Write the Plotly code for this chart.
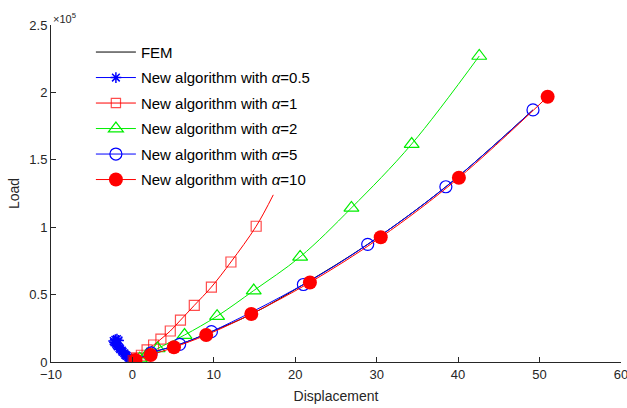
import plotly.graph_objects as go

# ---- data (load in N) ----
fem_x = [0, 2.3, 5.8, 9.7, 14.8, 21.0, 28.9, 38.5, 49.2]
fem_y = [0, 6700, 13100, 22500, 36000, 57500, 87300, 130000, 187000]

a05_x = [0, -0.1, -0.2, -0.4, -0.5, -0.7, -0.8, -0.9, -1.0, -1.2, -1.3, -1.5, -1.6, -1.8, -1.9, -2.0, -2.2, -2.3, -2.1, -1.9, -1.7]
a05_y = [500, 1000, 1500, 2500, 3500, 4500, 5000, 5500, 6500, 7500, 8500, 9500, 10500, 11500, 12500, 13500, 14500, 15500, 16500, 17000, 16000]

a1_x = [0.1, 0.5, 1.1, 1.8, 2.6, 3.5, 4.65, 5.9, 7.6, 9.7, 12.1, 15.2, 17.3]
a1_y = [1000, 3000, 5000, 9000, 12600, 17000, 23000, 31000, 42000, 55600, 74200, 100700, 124000]
a1_mark = [True] * 12 + [False]

a2_x = [0.2, 0.9, 1.8, 3.1, 6.4, 10.4, 14.9, 20.6, 26.9, 34.3, 42.6]
a2_y = [800, 2500, 5500, 10000, 20000, 34000, 53000, 78000, 114300, 161700, 227000]

a5_x = [0.3, 2.3, 5.8, 9.7, 21.0, 28.9, 38.5, 49.2]
a5_y = [1000, 6700, 13100, 22500, 57500, 87300, 130000, 187000]

a10_x = [0.37, 2.24, 5.1, 9.06, 14.6, 21.8, 30.5, 40.1, 51.0]
a10_y = [1500, 5200, 10900, 20000, 35600, 59000, 92500, 136700, 196800]

y_ticks = [0, 50000, 100000, 150000, 200000, 250000]
y_ticktext = ["0", "0.5", "1", "1.5", "2", "2.5"]
x_ticks = [-10, 0, 10, 20, 30, 40, 50, 60]

fig = go.Figure()
fig.add_trace(go.Scatter(x=fem_x, y=fem_y, mode="lines", line=dict(color="black", width=1, shape="spline"),
                         name="FEM", legendgroup="g0"))
fig.add_trace(go.Scatter(x=a05_x, y=a05_y, mode="lines+markers",
                         line=dict(color="blue", width=1),
                         marker=dict(symbol="asterisk-open", size=9, color="blue", line=dict(color="blue", width=1.5)),
                         name="New algorithm with <i>α</i>=0.5", legendgroup="g1"))
fig.add_trace(go.Scatter(x=a1_x, y=a1_y, mode="lines+markers",
                         line=dict(color="red", width=1, shape="spline"),
                         marker=dict(symbol="square-open", size=[10 if m else 0 for m in a1_mark], color="red",
                                     line=dict(color="red", width=1.2)),
                         name="New algorithm with <i>α</i>=1", legendgroup="g2"))
fig.add_trace(go.Scatter(x=a2_x, y=a2_y, mode="lines+markers",
                         line=dict(color="#00ee00", width=1, shape="spline"),
                         marker=dict(symbol="triangle-up-open", size=13, color="#00ee00", line=dict(color="#00ee00", width=1.2)),
                         name="New algorithm with <i>α</i>=2", legendgroup="g3"))
fig.add_trace(go.Scatter(x=a5_x, y=a5_y, mode="lines+markers",
                         line=dict(color="blue", width=1, shape="spline"),
                         marker=dict(symbol="circle-open", size=12, color="blue", line=dict(color="blue", width=1.2)),
                         name="New algorithm with <i>α</i>=5", legendgroup="g4"))
fig.add_trace(go.Scatter(x=a10_x, y=a10_y, mode="lines+markers",
                         line=dict(color="red", width=1, shape="spline"),
                         marker=dict(symbol="circle", size=14, color="red"),
                         name="New algorithm with <i>α</i>=10", legendgroup="g5"))

axis_common = dict(showline=True, linecolor="#262626", linewidth=1, ticks="inside", ticklen=5,
                   tickcolor="#262626", showgrid=False, zeroline=False, mirror=False,
                   ticklabeloverflow="allow", automargin=False,
                   tickfont=dict(family="Liberation Sans, Arial", size=13, color="#262626"))

fig.update_layout(
    width=627, height=408,
    margin=dict(l=51, r=6, t=25, b=46, autoexpand=False),
    paper_bgcolor="white", plot_bgcolor="white",
    font=dict(family="Liberation Sans, Arial", size=13, color="#262626"),
    xaxis=dict(range=[-10, 60.01], tickvals=x_ticks, title=dict(text="Displacement", standoff=10,
               font=dict(size=14, color="#262626")), **axis_common),
    yaxis=dict(range=[0, 250000], tickvals=y_ticks, ticktext=y_ticktext,
               title=dict(text="Load", standoff=6, font=dict(size=14, color="#262626")), **axis_common),
    legend=dict(x=0.07, y=0.968, xanchor="left", yanchor="top", bgcolor="rgba(0,0,0,0)",
                font=dict(size=15, color="black"), tracegroupgap=3, itemwidth=40),
    showlegend=True,
)
fig.add_annotation(x=0, y=1, xref="paper", yref="paper", xanchor="left", yanchor="bottom",
                   text="×10<sup>5</sup>", showarrow=False, font=dict(size=11, color="#262626"), yshift=-2)

fig.write_html("out.html")
